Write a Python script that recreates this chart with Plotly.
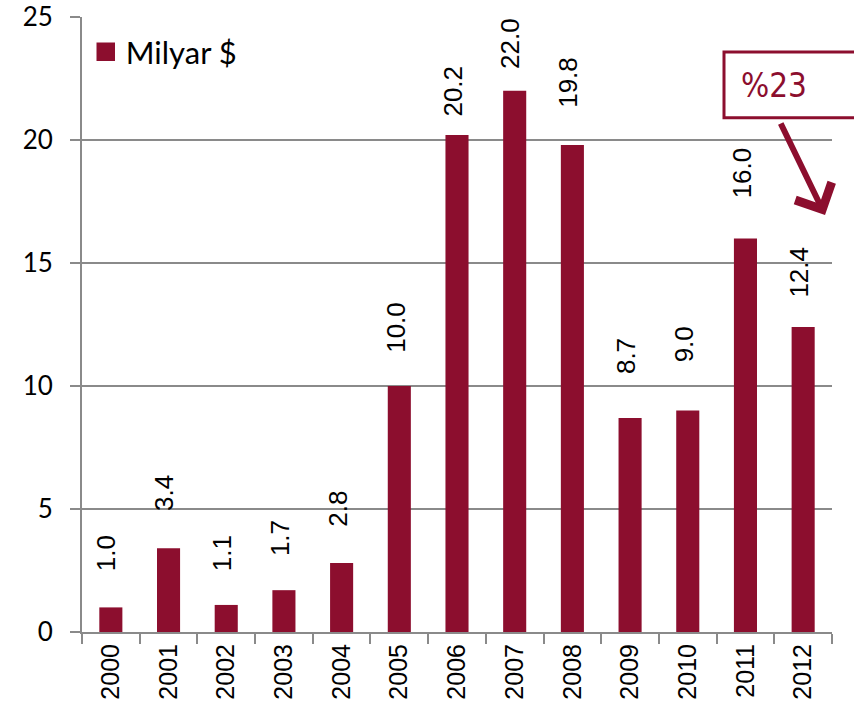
import plotly.graph_objects as go

RED = "#8C0E2E"
GRID = "#8a8a8a"

years  = ["2000", "2001", "2002", "2003", "2004", "2005", "2006",
          "2007", "2008", "2009", "2010", "2011", "2012"]
values = [1.0, 3.4, 1.1, 1.7, 2.8, 10.0, 20.2, 22.0, 19.8, 8.7, 9.0, 16.0, 12.4]
y_ticks = [0, 5, 10, 15, 20, 25]
series_name = "Milyar $"
change_label = "%23"

# gap (px) between each bar top and its label, as placed in the original
label_gap = [34, 35, 32, 32, 34, 31, 16, 20, 35, 42, 46, 38, 27]

fig = go.Figure()

fig.add_trace(go.Bar(
    x=years, y=values, name=series_name,
    marker=dict(color=RED, line=dict(width=0)),
    showlegend=False,
))

# legend entry with a bigger square than the bar legend symbol
fig.add_trace(go.Scatter(
    x=[None], y=[None], mode="markers", name=series_name,
    marker=dict(symbol="square", size=21, color=RED,
                line=dict(color=RED, width=2.5)),
))

# ── value labels, rotated, above each bar (x by category index) ───────────
for i, v in enumerate(values):
    fig.add_annotation(
        x=i, y=v, xref="x", yref="y",
        text=f"{v:.1f}", textangle=-90,
        showarrow=False, yanchor="bottom", yshift=label_gap[i], xshift=-4,
        font=dict(size=26, family="Liberation Sans, Arial", color="#000000"),
    )

# ── "%23" callout box + arrow ─────────────────────────────────────────────
fig.add_shape(
    type="rect", xref="paper", yref="paper",
    x0=0.856, x1=1.04, y0=0.836, y1=0.943,
    line=dict(color=RED, width=3), fillcolor="white", layer="above",
)
fig.add_annotation(
    xref="paper", yref="paper", x=0.923, y=0.889,
    xanchor="center", yanchor="middle",
    text=change_label, showarrow=False,
    font=dict(size=33, family="Liberation Sans Narrow, DejaVu Sans Condensed, sans-serif",
              color=RED),
)
fig.add_annotation(
    xref="paper", yref="paper", x=0.9907, y=0.678,
    axref="pixel", ayref="pixel", ax=-45, ay=-93,
    text="", showarrow=True, arrowhead=4, arrowsize=1.3,
    arrowwidth=6, arrowcolor=RED,
)

fig.update_layout(
    width=854, height=714,
    margin=dict(l=82, r=22, t=17, b=82, autoexpand=False),
    plot_bgcolor="white", paper_bgcolor="white",
    bargap=0.6,
    showlegend=True,
    legend=dict(x=0.005, y=0.987, xanchor="left", yanchor="top",
                bgcolor="rgba(0,0,0,0)", itemsizing="trace",
                font=dict(size=31, family="Lato, sans-serif", color="#000000")),
    xaxis=dict(
        type="category", categoryorder="array", categoryarray=years,
        tickangle=-90, automargin=False,
        showline=True, linecolor=GRID, linewidth=2,
        ticks="outside", tickson="boundaries", ticklen=10, tickcolor=GRID, tickwidth=2,
        showgrid=False,
        tickfont=dict(size=25, family="Liberation Sans, Arial", color="#000000"),
    ),
    yaxis=dict(
        range=[0, 25], tickvals=y_ticks, automargin=False,
        showline=True, linecolor=GRID, linewidth=2,
        ticks="outside", ticklen=10, tickcolor=GRID, tickwidth=2,
        showgrid=True, gridcolor=GRID, gridwidth=1.5,
        zeroline=False, ticklabeloverflow="allow",
        tickfont=dict(size=26, family="Lato, sans-serif", color="#000000"),
        ticklabelstandoff=12,
    ),
)

# drop the default 8px page margin so the figure fills the window exactly
fig.write_html("out.html", config={"displayModeBar": False},
               post_script="document.body.style.margin='0';document.body.style.overflow='hidden';")
